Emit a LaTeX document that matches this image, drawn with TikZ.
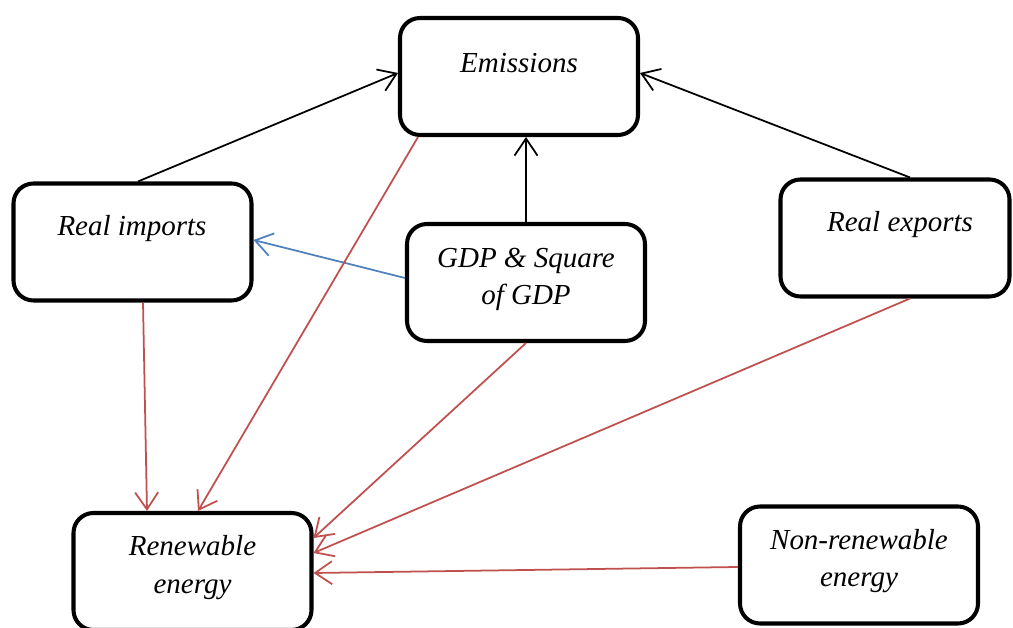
\documentclass[tikz,border=0pt]{standalone}
\usepackage{fontspec}
\setmainfont{Liberation Serif}
\usetikzlibrary{arrows.meta}
\definecolor{linkred}{RGB}{192,80,77}
\definecolor{linkblue}{RGB}{79,129,189}
\tikzset{%
   factor/.style={draw=black, line width=2.3pt, rounded corners=0.4cm,
      minimum width=4.76cm, minimum height=2.34cm, inner sep=0pt},
   factortext/.style={font=\itshape\fontsize{16.5}{21.5}\selectfont, align=center, inner sep=0pt},
   link/.style={-{Straight Barb[length=3.4mm,width=4.6mm]}, line width=1pt},
}
\begin{document}
\begin{tikzpicture}%
      % ~ page
      \clip (0,0) rectangle (20.26,12.56);%
      % ~ boxes
      \node[factor] (emis) at (10.38,11.03) {};%
      \node[factor] (imports) at (2.65,7.72) {};%
      \node[factor] (gdp) at (10.52,6.91) {};%
      \node[factor, minimum width=4.58cm] (exports) at (17.90,7.80) {};%
      \node[factor] (renew) at (3.85,1.13) {};%
      \node[factor] (nonrenew) at (17.18,1.26) {};%
      % ~ texts
      \node[factortext] (emistext) at ([yshift=-0.95cm]emis.north) {Emissions};%
      \node[factortext] (importstext) at ([yshift=-0.95cm,xshift=-0.01cm]imports.north) {Real imports};%
      \node[factortext] (gdptext) at ([yshift=-1.15cm]gdp.north) {GDP \& Square\\of GDP};%
      \node[factortext] (exportstext) at ([yshift=-0.95cm,xshift=0.1cm]exports.north) {Real exports};%
      \node[factortext] (renewtext) at ([yshift=-1.13cm]renew.north) {Renewable\\energy};%
      \node[factortext] (nonrenewtext) at ([yshift=-1.13cm]nonrenew.north) {Non-renewable\\energy};%
      % ~ arrows to emissions
      \draw[link] ([xshift=0.11cm]imports.north) -- ([yshift=0.07cm]emis.west);%
      \draw[link] ([xshift=0.3cm]exports.north) -- ([yshift=0.07cm]emis.east);%
      \draw[link] (gdp.north) -- (gdp.north |- emis.south);%
      % ~ gdp to imports
      \draw[link, linkblue] ([yshift=0.09cm]gdp.west) -- ([yshift=0.04cm]imports.east);%
      % ~ arrows to renewable energy
      \draw[link, linkred] ([xshift=-2.02cm]emis.south) -- ([xshift=0.11cm]renew.north);%
      \draw[link, linkred] ([xshift=0.21cm]imports.south) -- ([xshift=-0.91cm]renew.north);%
      \draw[link, linkred] (gdp.south) -- ([yshift=0.67cm]renew.east);%
      \draw[link, linkred] ([xshift=0.3cm]exports.south) -- ([yshift=0.37cm]renew.east);%
      \draw[link, linkred] ([yshift=-0.04cm]nonrenew.west) -- ([yshift=-0.03cm]renew.east);%
         %
   \end{tikzpicture}
\end{document}
